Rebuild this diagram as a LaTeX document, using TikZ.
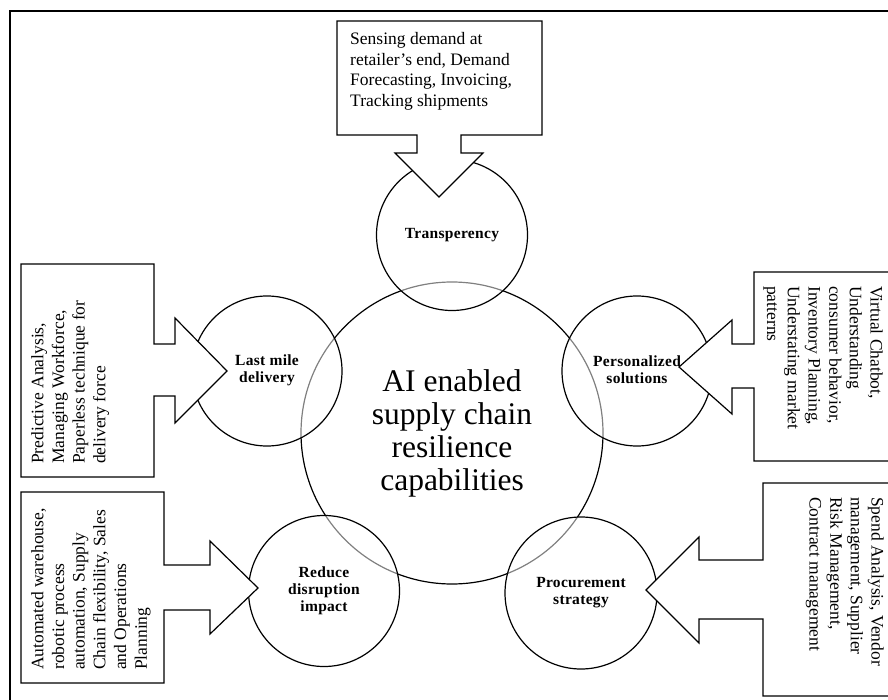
\documentclass[tikz,border=0pt]{standalone}
\usepackage{fontspec}
\setmainfont{Liberation Serif}
\begin{document}
\begin{tikzpicture}[x=1pt,y=-1pt,
  ring/.style={circle,draw,line width=1.2pt,inner sep=0pt,fill=white,fill opacity=0.5,text opacity=1},
  hub/.style={circle,draw,line width=1.2pt,inner sep=0pt},
  callout/.style={draw,line width=1.2pt,fill=white,line join=miter},
  note/.style={font=\fontsize{17.5}{20.7}\selectfont,align=left,inner sep=0pt},
  lbl/.style={font=\fontsize{15.5}{17}\selectfont\bfseries\addfontfeatures{LetterSpace=2},align=center,inner sep=0pt},
  hubtext/.style={font=\fontsize{31.5}{33}\selectfont,align=center,inner sep=0pt}]
\useasboundingbox (0,0) rectangle (888,700);
\clip (0,0) rectangle (888,700);

% outer frame
\draw[line width=1.7pt] (10,705) -- (10,11) -- (900,11);

% central capability circle
\node[hub,minimum size=302pt] (core) at (452,433) {};

% surrounding capability circles
\node[ring,minimum size=151pt] (tr) at (452,235) {};
\node[ring,minimum size=150pt] (lm) at (267,371) {};
\node[ring,minimum size=150pt] (ps) at (637,371) {};
\node[ring,minimum size=151pt] (rd) at (324,591) {};
\node[ring,minimum size=152pt] (pc) at (581,593) {};

% callout boxes with arrow heads pointing at the circles
\draw[callout] (337,21) -- (542,21) -- (542,135) -- (461,135) -- (461,153) -- (483,153)
  -- (439,197) -- (395,153) -- (417,153) -- (417,135) -- (337,135) -- cycle;
\draw[callout] (21,264) -- (154,264) -- (154,344) -- (175,344) -- (175,318) -- (227,371)
  -- (175,423) -- (175,396) -- (154,396) -- (154,477) -- (21,477) -- cycle;
\draw[callout] (900,272) -- (754,272) -- (754,344) -- (732,344) -- (732,320) -- (679,367)
  -- (732,414) -- (732,388) -- (754,388) -- (754,461) -- (900,461);
\draw[callout] (21,492) -- (164,492) -- (164,565) -- (210,565) -- (210,541) -- (258,588)
  -- (210,634) -- (210,610) -- (164,610) -- (164,683) -- (21,683) -- cycle;
\draw[callout] (900,483) -- (763,483) -- (763,560) -- (699,560) -- (699,537) -- (646,590)
  -- (699,643) -- (699,619) -- (763,619) -- (763,696) -- (900,696);

% circle labels
\node[hubtext] (core-t) at (core) {AI enabled\\supply chain\\resilience\\capabilities};
\node[lbl] (tr-t) at (tr) {Transperency};
\node[lbl] (lm-t) at ([yshift=1]lm) {Last mile\\delivery};
\node[lbl] (ps-t) at ([yshift=1]ps) {Personalized\\solutions};
\node[lbl] (rd-t) at (rd) {Reduce\\disruption\\impact};
\node[lbl] (pc-t) at (pc) {Procurement\\strategy};

% callout texts
\node[note,anchor=north west] (tr-n) at (350,32)
  {Sensing demand at\\retailer’s end, Demand\\Forecasting, Invoicing,\\Tracking shipments};
\node[note,rotate=90,anchor=north west] (lm-n) at (31,464)
  {Predictive Analysis,\\Managing Workforce,\\Paperless technique for\\delivery force};
\node[note,rotate=90,anchor=north west] (rd-n) at (31,670)
  {Automated warehouse,\\robotic process\\automation, Supply\\Chain flexibility, Sales\\and Operations\\Planning};
\node[note,rotate=-90,anchor=north west] (ps-n) at (883,286)
  {Virtual Chatbot,\\Understanding\\consumer behavior,\\Inventory Planning,\\Understating market\\patterns};
\node[note,rotate=-90,anchor=north west] (pc-n) at (884,497)
  {Spend Analysis, Vendor\\management, Supplier\\Risk Management,\\Contract management};
\end{tikzpicture}
\end{document}
